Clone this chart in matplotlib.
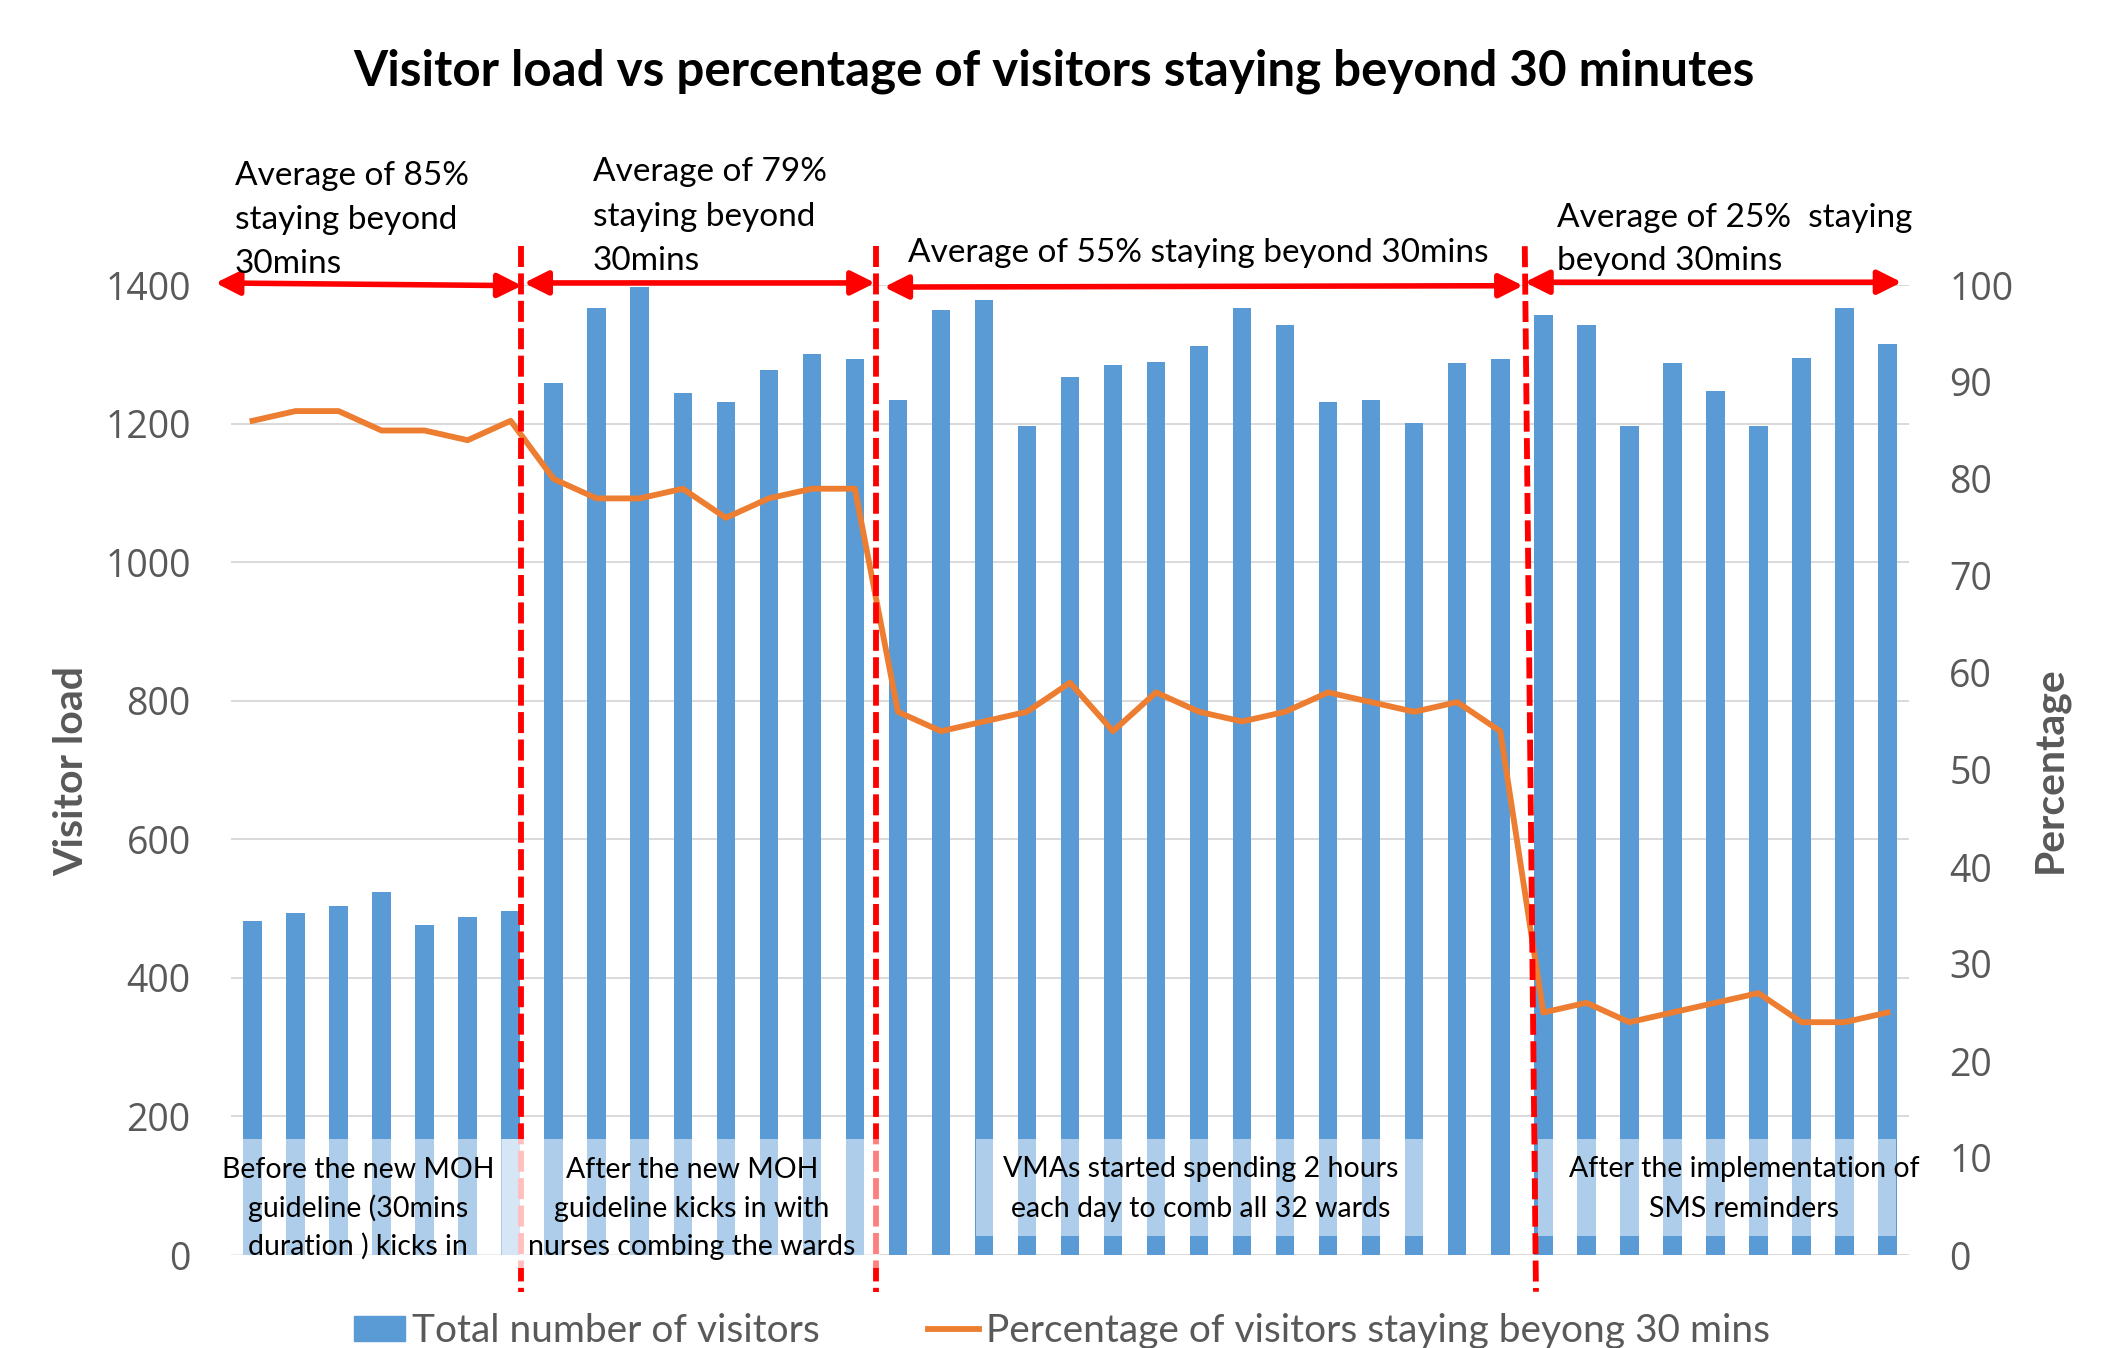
import matplotlib
matplotlib.use("Agg")
import matplotlib.pyplot as plt
from matplotlib.patches import Rectangle
from matplotlib.lines import Line2D
import numpy as np

W, H = 2116, 1348

# ---------------- data ----------------
days = list(range(1, 40))
visitors = [482, 493, 503, 524, 476, 488, 497,
            1258, 1367, 1397, 1244, 1231, 1277, 1300, 1293,
            1234, 1364, 1379, 1196, 1267, 1284, 1289, 1312, 1367, 1342, 1231, 1234, 1201, 1287, 1293,
            1356, 1342, 1196, 1288, 1247, 1196, 1295, 1367, 1315]
percent = [86, 87, 87, 85, 85, 84, 86,
           80, 78, 78, 79, 76, 78, 79, 79,
           56, 54, 55, 56, 59, 54, 58, 56, 55, 56, 58, 57, 56, 57, 54,
           25, 26, 24, 25, 26, 27, 24, 24, 25]
left_ticks = list(range(0, 1401, 200))
right_ticks = list(range(0, 101, 10))

title = "Visitor load vs percentage of visitors staying beyond 30 minutes"
bar_label = "Total number of visitors"
line_label = "Percentage of visitors staying beyong 30 mins"

# section dividers (category units, top x / bottom x)
dividers = [(6.24, 6.24), (14.48, 14.48), (29.57, 29.83)]
divider_y = (1456, -53)
# double arrows (x0, y0, x1, y1) in category / visitor units
arrows = [(-0.86, 1403, 6.26, 1399), (6.31, 1403, 14.47, 1403),
          (14.68, 1397, 29.53, 1399), (29.57, 1404, 38.33, 1404)]

top_notes = [  # (x px, [baselines px], lines)
    (235, [185, 229, 273], ["Average of 85%", "staying beyond", "30mins"]),
    (593, [181, 226, 270], ["Average of 79%", "staying beyond", "30mins"]),
    (908, [262], ["Average of 55% staying beyond 30mins"]),
    (1557, [227, 270], ["Average of 25%  staying", "beyond 30mins"]),
]
box_notes = [  # (center x px, [baselines], lines)
    (358, [1178, 1217, 1255], ["Before the new MOH", "guideline (30mins", "duration ) kicks in"]),
    (692, [1178, 1217, 1255], ["After the new MOH", "guideline kicks in with", "nurses combing the wards"]),
    (1201, [1177, 1217], ["VMAs started spending 2 hours", "each day to comb all 32 wards"]),
    (1744, [1177, 1217], ["After the implementation of", "SMS reminders"]),
]
boxes = [(215, 1139, 526, 1268), (502, 1139, 880, 1268),
         (976, 1139, 1424, 1236), (1538, 1139, 1896, 1236)]

BLUE = "#5B9BD5"
ORANGE = "#ED7D31"
GREY = "#595959"
GRID = "#D9D9D9"
FONT = "Lato"
TICKFONT = "Open Sans"

plt.rcParams["font.family"] = [FONT, "DejaVu Sans"]


def fx(x):
    return x / W


def fy(y):
    return 1 - y / H


fig = plt.figure(figsize=(W / 100, H / 100), dpi=100)
rect = [231 / W, 1 - 1255 / H, 1678 / W, 970 / H]
ax = fig.add_axes(rect)
x = np.arange(len(days))
ax.bar(x, visitors, width=0.43, color=BLUE, zorder=2, label=bar_label)
ax.set_xlim(-0.5, len(days) - 0.5)
ax.set_ylim(0, 1400)
ax.set_yticks(left_ticks)
ax.set_xticks([])
ax.grid(axis="y", color=GRID, lw=1.4, zorder=0)
ax.set_axisbelow(True)
for s in ax.spines.values():
    s.set_visible(False)
ax.tick_params(axis="y", length=0, pad=29, labelsize=27, labelcolor=GREY,
               labelfontfamily=TICKFONT)

ax2 = ax.twinx()
ax2.plot(x, percent, color=ORANGE, lw=4.2, zorder=3, label=line_label)
ax2.set_ylim(0, 100)
ax2.set_yticks(right_ticks)
for s in ax2.spines.values():
    s.set_visible(False)
ax2.tick_params(axis="y", length=0, pad=29, labelsize=27, labelcolor=GREY,
                labelfontfamily=TICKFONT)
ax2.set_xlim(-0.5, len(days) - 0.5)

# overlay axes for dividers and arrows
ov = fig.add_axes(rect)
ov.set_xlim(-0.5, len(days) - 0.5)
ov.set_ylim(0, 1400)
ov.axis("off")
for xt, xb in dividers:
    ov.plot([xt, xb], list(divider_y), color="red", lw=4.2,
            ls=(0, (3.6, 1.1)), clip_on=False, zorder=3)
for x0, y0, x1, y1 in arrows:
    ov.annotate("", xy=(x1, y1), xytext=(x0, y0),
                arrowprops=dict(arrowstyle="<|-|>,head_length=0.4,head_width=0.2",
                                color="red", lw=4.0, mutation_scale=36,
                                shrinkA=0, shrinkB=0),
                annotation_clip=False, zorder=4)

# semi-transparent white text boxes
for x0, y0, x1, y1 in boxes:
    fig.add_artist(Rectangle((fx(x0), fy(y1)), (x1 - x0) / W, (y1 - y0) / H,
                             transform=fig.transFigure, facecolor="white",
                             edgecolor="none", alpha=0.5, zorder=1))

# texts
fig.text(fx(1054), fy(86), title, ha="center", va="baseline",
         fontsize=35.5, fontweight="bold", color="black")
for xp, bases, lines in top_notes:
    for b, s in zip(bases, lines):
        fig.text(fx(xp), fy(b), s, ha="left", va="baseline", fontsize=24, color="black")
for xp, bases, lines in box_notes:
    for b, s in zip(bases, lines):
        fig.text(fx(xp), fy(b), s, ha="center", va="baseline", fontsize=20.5,
                 color="black", zorder=3)

fig.text(fx(72), fy(771), "Visitor load", rotation=90, ha="center", va="center",
         fontsize=29.5, fontweight="bold", color=GREY)
fig.text(fx(2050), fy(770), "Percentage", rotation=90, ha="center", va="center",
         fontsize=29.5, fontweight="bold", color=GREY)

handles = [Rectangle((0, 0), 1, 1, color=BLUE),
           Line2D([0], [0], color=ORANGE, lw=4.2)]
fig.legend(handles, [bar_label, line_label], loc="center",
           bbox_to_anchor=(fx(1062), fy(1331)), ncol=2, frameon=False,
           fontsize=28, handlelength=1.31, handleheight=0.6, handletextpad=0.18,
           columnspacing=2.78, labelcolor=GREY, borderpad=0, borderaxespad=0)

fig.savefig("out.png", dpi=100)
